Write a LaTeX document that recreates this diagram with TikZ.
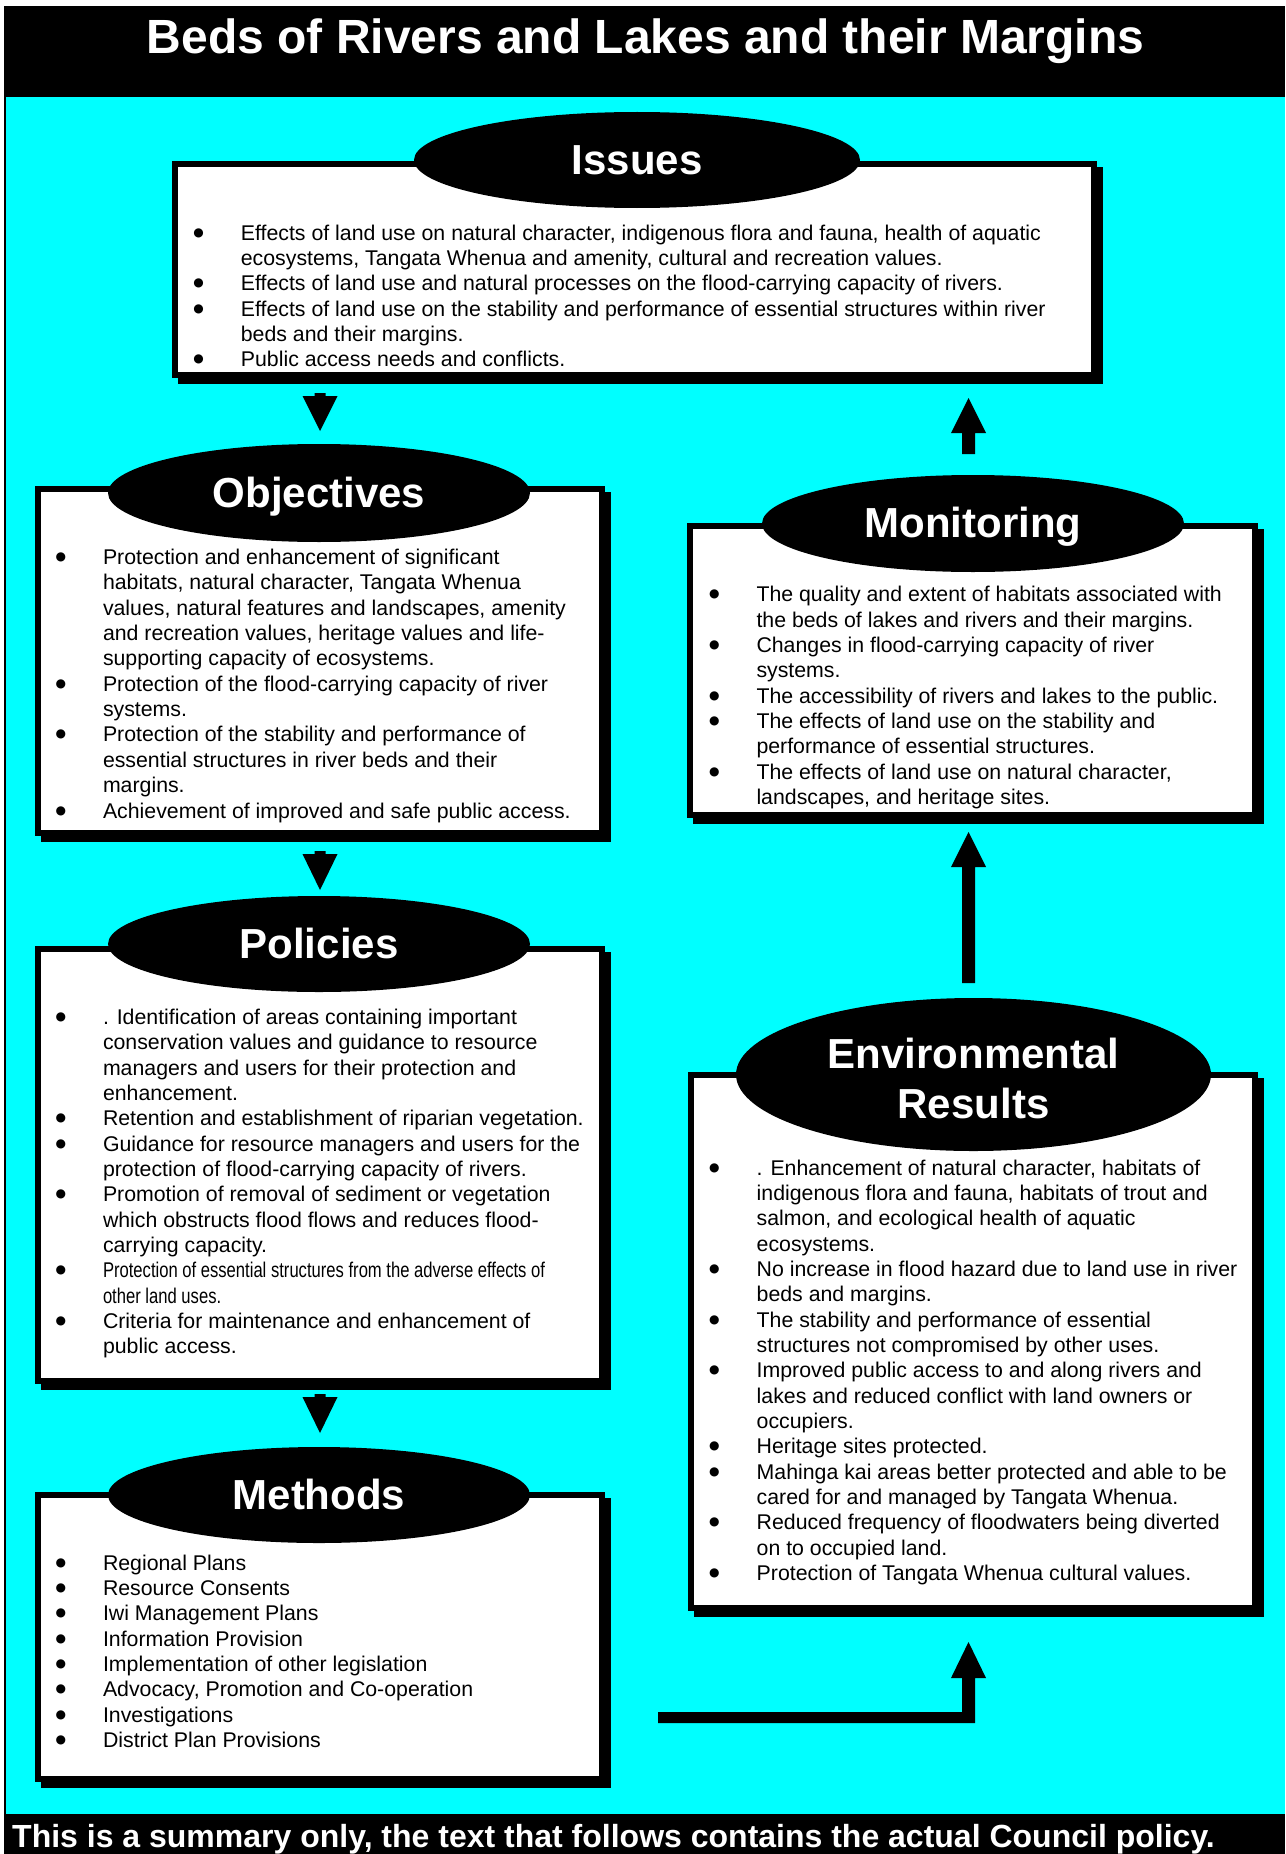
\documentclass[tikz,border=0pt]{standalone}
\usepackage{fontspec}
\setmainfont{Liberation Sans}
\newfontfamily\dejavu{DejaVu Sans}
\usepackage{graphicx}
\usetikzlibrary{shapes.geometric}
\definecolor{aqua}{HTML}{00FFFF}
\newcommand\bitem[1]{\par\noindent\hangindent=46.5pt\hangafter=1\makebox[46.5pt][l]{\hspace{-1pt}\raisebox{4pt}{\dejavu\fontsize{12}{12}\selectfont ●}}#1}
\newcommand\blist[2]{\parbox[t]{#1}{\fontsize{21.3}{25.35}\selectfont #2}}
\begin{document}
\begin{tikzpicture}[x=1pt,y=-1pt,
  box/.style={rectangle, draw=black, fill=white, line width=6pt, inner sep=0pt, outer sep=0pt},
  shadowfill/.style={fill=black},
  ell/.style={ellipse, fill=black, draw=none, inner sep=0pt},
  elltext/.style={text=white, font=\fontsize{42}{50}\selectfont\bfseries, anchor=base, inner sep=0pt},
  body/.style={anchor=base west, inner sep=0pt, text=black},
  conn/.style={fill=black}
]
\useasboundingbox (0,0) rectangle (1285,1854);
% background
\fill[white] (0,0) rectangle (1285,1854);
\fill[black] (4,6) rectangle (1285,1854);
\fill[aqua] (6,97) rectangle (1285,1814);
\node[text=white, font=\fontsize{48}{56}\selectfont\bfseries, anchor=base, inner sep=0pt] (title) at (645.5,54) {Beds of Rivers and Lakes and their Margins};
\node[text=white, font=\fontsize{32}{38}\selectfont\bfseries, anchor=base west, inner sep=0pt] (note) at (12,1847) {This is a summary only, the text that follows contains the actual Council policy.};

% shadows
\fill[shadowfill] (178,167) rectangle (1103,384);
\fill[shadowfill] (41,492) rectangle (611,842);
\fill[shadowfill] (41,952) rectangle (611,1390);
\fill[shadowfill] (41,1498) rectangle (611,1788);
\fill[shadowfill] (693,529) rectangle (1264,824);
\fill[shadowfill] (694,1078) rectangle (1264,1617);

% boxes
\node[box, minimum width=919pt, minimum height=211pt] (issbox) at (634.5,269.5) {};
\node[box, minimum width=564pt, minimum height=344pt] (objbox) at (320,661) {};
\node[box, minimum width=564pt, minimum height=432pt] (polbox) at (320,1165) {};
\node[box, minimum width=564pt, minimum height=284pt] (metbox) at (320,1637) {};
\node[box, minimum width=565pt, minimum height=289pt] (monbox) at (972.5,670.5) {};
\node[box, minimum width=564pt, minimum height=533pt] (envbox) at (973,1341.5) {};

% ellipses
\node[ell, minimum width=446pt, minimum height=96pt] (issell) at (637,160) {};
\node[elltext] (isslab) at (637,174.5) {Issues};
\node[ell, minimum width=422pt, minimum height=98pt] (objell) at (319,493) {};
\node[elltext] (objlab) at (319,507.5) {Objectives};
\node[ell, minimum width=422pt, minimum height=96pt] (polell) at (319,944) {};
\node[elltext] (pollab) at (319,958.5) {Policies};
\node[ell, minimum width=422pt, minimum height=96pt] (metell) at (319,1495) {};
\node[elltext] (metlab) at (319,1509) {Methods};
\node[ell, minimum width=422pt, minimum height=97pt] (monell) at (973,523.5) {};
\node[elltext] (monlab) at (973,537.5) {Monitoring};
\node[ell, minimum width=475pt, minimum height=153pt] (envell) at (973.5,1074.5) {};
\node[elltext] (envlab) at (973.5,1068) {\begin{tabular}[t]{@{}c@{}}Environmental\\Results\end{tabular}};

% texts
\node[body] (isstext) at (194.2,240) {\blist{880pt}{%
\bitem{Effects of land use on natural character, indigenous flora and fauna, health of aquatic\\ecosystems, Tangata Whenua and amenity, cultural and recreation values.}
\bitem{Effects of land use and natural processes on the flood-carrying capacity of rivers.}
\bitem{Effects of land use on the stability and performance of essential structures within river\\beds and their margins.}
\bitem{Public access needs and conflicts.}}};

\node[body] (objtext) at (56.3,564.5) {\blist{540pt}{%
\bitem{Protection and enhancement of significant\\habitats, natural character, Tangata Whenua\\values, natural features and landscapes, amenity\\and recreation values, heritage values and life-\\supporting capacity of ecosystems.}
\bitem{Protection of the flood-carrying capacity of river\\systems.}
\bitem{Protection of the stability and performance of\\essential structures in river beds and their\\margins.}
\bitem{Achievement of improved and safe public access.}}};

\node[body] (poltext) at (56.3,1024.3) {\blist{540pt}{%
\bitem{. Identification of areas containing important\\conservation values and guidance to resource\\managers and users for their protection and\\enhancement.}
\bitem{Retention and establishment of riparian vegetation.}
\bitem{Guidance for resource managers and users for the\\protection of flood-carrying capacity of rivers.}
\bitem{Promotion of removal of sediment or vegetation\\which obstructs flood flows and reduces flood-\\carrying capacity.}
\bitem{\scalebox{0.78}[1]{Protection of essential structures from the adverse effects of}\\\scalebox{0.78}[1]{other land uses.}}
\bitem{Criteria for maintenance and enhancement of\\public access.}}};

\node[body] (mettext) at (56.3,1570) {\blist{540pt}{%
\bitem{Regional Plans}
\bitem{Resource Consents}
\bitem{Iwi Management Plans}
\bitem{Information Provision}
\bitem{Implementation of other legislation}
\bitem{Advocacy, Promotion and Co-operation}
\bitem{Investigations}
\bitem{District Plan Provisions}}};

\node[body] (montext) at (709.8,601.7) {\blist{540pt}{%
\bitem{The quality and extent of habitats associated with\\the beds of lakes and rivers and their margins.}
\bitem{Changes in flood-carrying capacity of river\\systems.}
\bitem{The accessibility of rivers and lakes to the public.}
\bitem{The effects of land use on the stability and\\performance of essential structures.}
\bitem{The effects of land use on natural character,\\landscapes, and heritage sites.}}};

\node[body] (envtext) at (710,1175) {\blist{540pt}{%
\bitem{. Enhancement of natural character, habitats of\\indigenous flora and fauna, habitats of trout and\\salmon, and ecological health of aquatic\\ecosystems.}
\bitem{No increase in flood hazard due to land use in river\\beds and margins.}
\bitem{The stability and performance of essential\\structures not compromised by other uses.}
\bitem{Improved public access to and along rivers and\\lakes and reduced conflict with land owners or\\occupiers.}
\bitem{Heritage sites protected.}
\bitem{Mahinga kai areas better protected and able to be\\cared for and managed by Tangata Whenua.}
\bitem{Reduced frequency of floodwaters being diverted\\on to occupied land.}
\bitem{Protection of Tangata Whenua cultural values.}}};

% connectors
\coordinate (iss-obj) at (320,431);
\coordinate (obj-pol) at (320,890);
\coordinate (pol-met) at (320,1433);
\coordinate (mon-iss) at (968.5,398);
\coordinate (env-mon) at (968.5,832);
\coordinate (met-env) at (968.5,1642);
\fill[conn] (iss-obj) -- ++(-17.5,-35) -- ++(12,0) -- ++(0,-3) -- ++(11,0) -- ++(0,3) -- ++(12,0) -- cycle;
\fill[conn] (obj-pol) -- ++(-17.5,-36) -- ++(12,0) -- ++(0,-3) -- ++(11,0) -- ++(0,3) -- ++(12,0) -- cycle;
\fill[conn] (pol-met) -- ++(-17.5,-36) -- ++(12,0) -- ++(0,-3) -- ++(11,0) -- ++(0,3) -- ++(12,0) -- cycle;
\fill[conn] (mon-iss) -- ++(17.5,35) -- ++(-11,0) -- ++(0,21) -- ++(-13,0) -- ++(0,-21) -- ++(-11,0) -- cycle;
\fill[conn] (env-mon) -- ++(17.5,35) -- ++(-11,0) -- ++(0,116) -- ++(-13,0) -- ++(0,-116) -- ++(-11,0) -- cycle;
\fill[conn] (met-env) -- ++(17.5,36) -- ++(-11,0) -- ++(0,45) -- ++(-317,0) -- ++(0,-11) -- ++(304,0) -- ++(0,-34) -- ++(-11,0) -- cycle;
\end{tikzpicture}
\end{document}
